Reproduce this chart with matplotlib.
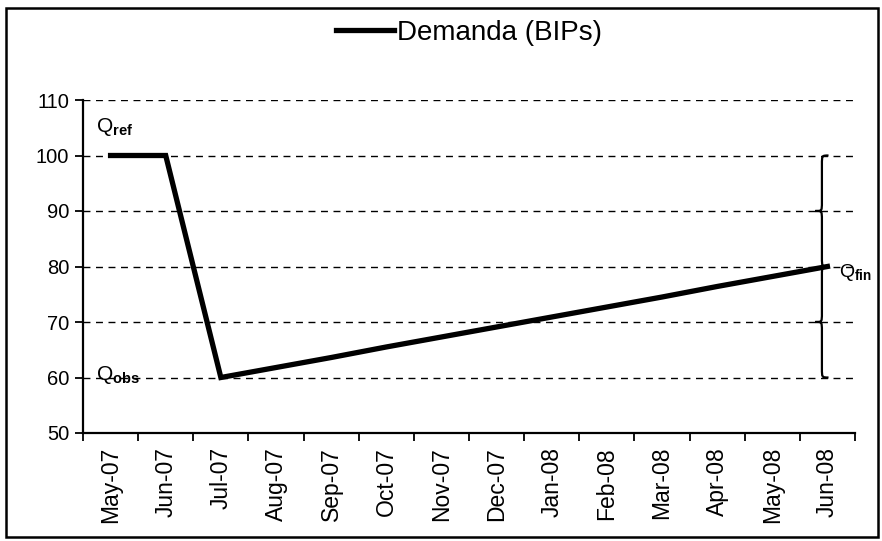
import matplotlib
matplotlib.use("Agg")
import matplotlib.pyplot as plt
from matplotlib.path import Path
from matplotlib.patches import PathPatch, Rectangle

plt.rcParams['font.family'] = ['Liberation Sans', 'DejaVu Sans']
plt.rcParams['mathtext.fontset'] = 'custom'
plt.rcParams['mathtext.rm'] = 'Liberation Sans'
plt.rcParams['mathtext.bf'] = 'Liberation Sans:bold'

# data
months = ['May-07', 'Jun-07', 'Jul-07', 'Aug-07', 'Sep-07', 'Oct-07', 'Nov-07',
          'Dec-07', 'Jan-08', 'Feb-08', 'Mar-08', 'Apr-08', 'May-08', 'Jun-08']
demanda = [100, 100, 60, 61.8, 63.6, 65.5, 67.3, 69.1, 70.9, 72.7, 74.5, 76.4, 78.2, 80]
yticks = [50, 60, 70, 80, 90, 100, 110]

fig = plt.figure(figsize=(8.82, 5.41), dpi=100)
ax = fig.add_axes([83/882, 1-433/541, (855-83)/882, (433-100)/541])

x = list(range(len(months)))
line, = ax.plot(x, demanda, color='black', lw=3.8, solid_joinstyle='miter',
                label='Demanda (BIPs)', zorder=3)

ax.set_xlim(-0.5, len(months)-0.5)
ax.set_ylim(50, 110)
ax.set_yticks(yticks)
ax.set_yticklabels([str(v) for v in yticks], fontsize=14.5)
# category axis: ticks between categories, labels in the middle
ax.set_xticks([i-0.5 for i in range(len(months)+1)])
ax.set_xticklabels([])
ax.set_xticks(x, minor=True)
ax.set_xticklabels(months, minor=True, rotation=90, fontsize=16.5,
                   family=['Liberation Sans Narrow', 'Liberation Sans'])
ax.tick_params(axis='x', which='major', direction='out', length=6, width=1.3)
ax.tick_params(axis='x', which='minor', length=0, pad=10)
ax.tick_params(axis='y', direction='out', length=6, width=1.3, pad=4)

for v in yticks[1:]:
    ax.axhline(v, color='black', lw=1.0, ls=(0, (5, 4)), zorder=1)

for s in ['top', 'right']:
    ax.spines[s].set_visible(False)
for s in ['left', 'bottom']:
    ax.spines[s].set_linewidth(1.6)

# Q labels
ax.text(-0.27, 104.2, r'Q$_{\mathbf{ref}}$', fontsize=15, ha='left', va='baseline')
ax.text(-0.27, 59.6, r'Q$_{\mathbf{obs}}$', fontsize=15, ha='left', va='baseline')
ax.text(13.21, 78.1, r'Q$_{\mathbf{fin}}$', fontsize=14, ha='left', va='baseline',
        clip_on=False)

# curly braces on the right
def brace(xs, y0, y1, d=0.12, q=1.6):
    ym = (y0 + y1) / 2
    verts = [(xs+d, y0), (xs, y0), (xs, y0), (xs, y0-q),
             (xs, ym+q), (xs, ym), (xs, ym), (xs-d, ym),
             (xs, ym), (xs, ym), (xs, ym-q),
             (xs, y1+q), (xs, y1), (xs, y1), (xs+d, y1)]
    codes = [Path.MOVETO, Path.CURVE4, Path.CURVE4, Path.CURVE4,
             Path.LINETO, Path.CURVE4, Path.CURVE4, Path.CURVE4,
             Path.CURVE4, Path.CURVE4, Path.CURVE4,
             Path.LINETO, Path.CURVE4, Path.CURVE4, Path.CURVE4]
    ax.add_patch(PathPatch(Path(verts, codes), fill=False, lw=1.6,
                           edgecolor='black', zorder=4, clip_on=False))

brace(12.90, 100, 80)
brace(12.90, 80, 60)

fig.legend(handles=[line], loc='center left', bbox_to_anchor=(336/882, 1-33/541),
           frameon=False, fontsize=20, handlelength=2.1, handletextpad=0.1,
           borderpad=0, borderaxespad=0)

# outer frame
fig.patches.append(Rectangle((6/882, 4/541), (878-6)/882, (533-4)/541,
                             transform=fig.transFigure, fill=False,
                             edgecolor='black', lw=1.8))

fig.savefig('out.png', dpi=100)
